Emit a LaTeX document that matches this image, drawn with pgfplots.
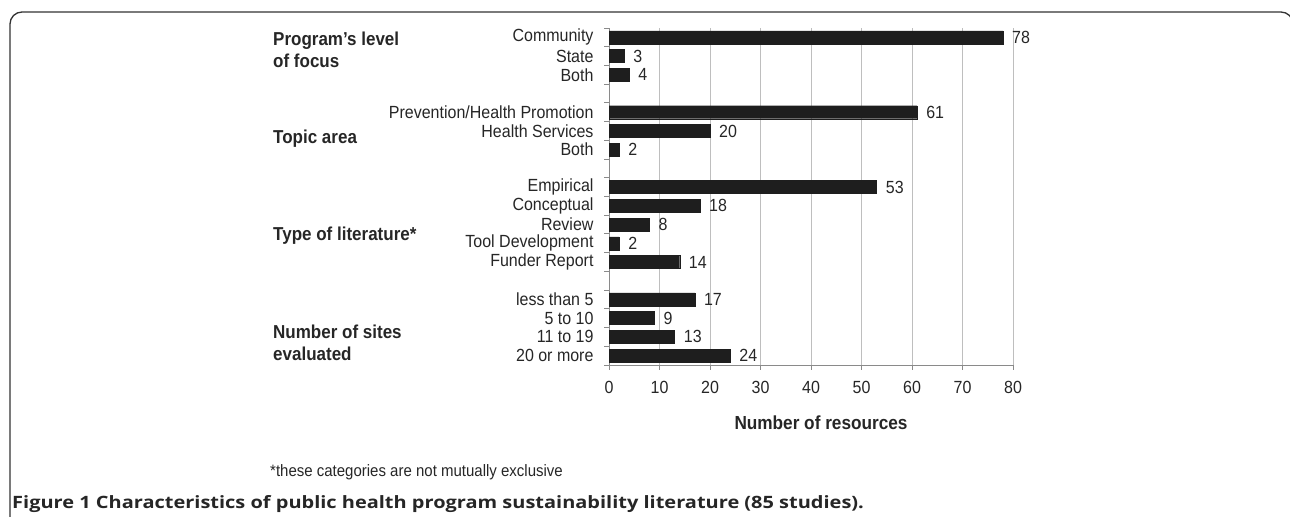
\documentclass[border=0pt]{standalone}
\usepackage{pgfplots}
\pgfplotsset{compat=1.18}
\usepackage{fontspec}
\setmainfont{Liberation Sans}
\newfontfamily\capfont{Open Sans}
\definecolor{barc}{HTML}{1E1E1E}
\definecolor{txt}{HTML}{262626}
\definecolor{gridc}{HTML}{BEBEBE}
\definecolor{axc}{HTML}{8A8A8A}
\begin{document}
\begin{tikzpicture}[x=1bp,y=1bp]
\useasboundingbox (0,0) rectangle (1290,517);
\begin{scope}
\clip (0,0) rectangle (1290,517);
\draw[line width=1.3bp, color=black!80, rounded corners=12bp] (10,-30) rectangle (1293,505);
\end{scope}
\begin{axis}[
  at={(609bp,152bp)}, anchor=south west, scale only axis,
  width=404bp, height=337bp,
  xmin=0, xmax=80, ymin=0.5, ymax=18.5,
  xbar, bar width=13bp,
  axis x line*=bottom, axis y line*=left,
  axis line style={-, color=axc, line width=0.9bp},
  xtick={0,10,...,80},
  xmajorgrids, grid style={color=gridc, line width=1bp},
  tick align=outside,
  major tick length=5bp, minor tick length=5bp,
  xtick style={color=axc, line width=0.9bp},
  ytick={1,...,18},
  ytick style={draw=none},
  minor ytick={0.5,1.5,...,18.5},
  minor y tick style={color=axc, line width=0.9bp, draw=axc},
  yticklabels={20 or more, 11 to 19, 5 to 10, less than 5, {}, Funder Report, Tool Development, Review\hspace{4bp}, Conceptual, Empirical, {}, Both, Health Services, Prevention/Health Promotion, {}, Both\hspace{4bp}, State, Community},
  yticklabel style={font=\fontsize{16bp}{18bp}\selectfont, text=txt, xshift=-7bp, yscale=1.1},
  xticklabel style={font=\fontsize{16bp}{18bp}\selectfont, text=txt, yshift=-7bp, yscale=1.1},
  /pgf/number format/assume math mode=true,
  nodes near coords,
  every node near coord/.append style={font=\fontsize{16bp}{18bp}\selectfont, text=txt, anchor=west, inner sep=0pt, xshift=9bp, yscale=1.1},
  clip=false,
]
\addplot[fill=barc, draw=barc] coordinates {
(24,1) (13,2) (9,3) (17,4)
(14,6) (2,7) (8,8) (18,9) (53,10)
(2,12) (20,13) (61,14)
(4,16) (3,17) (78,18)
};
\end{axis}
\begin{scope}[every node/.style={text=txt, inner sep=0pt, yscale=1.1}]
\node[anchor=base west, font=\fontsize{17bp}{20bp}\selectfont\bfseries] at (273,471) {Program’s level};
\node[anchor=base west, font=\fontsize{17bp}{20bp}\selectfont\bfseries] at (273,449) {of focus};
\node[anchor=base west, font=\fontsize{17bp}{20bp}\selectfont\bfseries] at (273,373) {Topic area};
\node[anchor=base west, font=\fontsize{17bp}{20bp}\selectfont\bfseries] at (273,276) {Type of literature*};
\node[anchor=base west, font=\fontsize{17bp}{20bp}\selectfont\bfseries] at (273,178) {Number of sites};
\node[anchor=base west, font=\fontsize{17bp}{20bp}\selectfont\bfseries] at (273,156) {evaluated};
\node[font=\fontsize{17.2bp}{20bp}\selectfont\bfseries] at (821,94) {Number of resources};
\node[anchor=base west, font=\fontsize{15bp}{18bp}\selectfont] at (270,40) {*these categories are not mutually exclusive};
\end{scope}
\node[anchor=base west, inner sep=0pt, text=txt, font=\capfont\fontsize{17bp}{20bp}\selectfont\bfseries, xscale=1.175] at (12,8) {Figure 1 Characteristics of public health program sustainability literature (85 studies).};
\end{tikzpicture}
\end{document}
